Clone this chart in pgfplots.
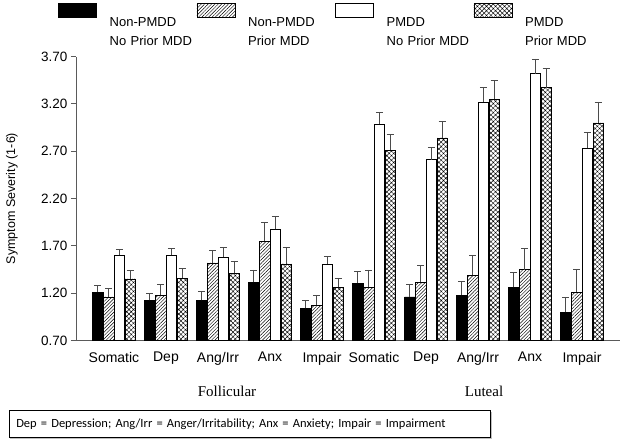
\documentclass[border=0pt]{standalone}
\usepackage{fontspec}
\setmainfont{Liberation Sans}
\newfontfamily\timesfont{Liberation Serif}
\newfontfamily\notefont{Carlito}
\usepackage{pgfplots}
\pgfplotsset{compat=1.18}
\usetikzlibrary{patterns.meta}

\definecolor{axisgray}{RGB}{90,90,90}
\definecolor{errgray}{RGB}{75,75,75}

\begin{document}
\begin{tikzpicture}
\path[use as bounding box] (0,0) rectangle (629bp,-443bp);
\begin{axis}[
  at={(76bp,-340.5bp)}, anchor=south west,
  scale only axis,
  width=544bp, height=284bp,
  ybar=0.4bp, bar width=10.4bp,
  xmin=-0.73, xmax=9.73,
  ymin=0.7, ymax=3.7,
  ytick={0.7,1.2,1.7,2.2,2.7,3.2,3.7},
  xtick={0,...,9},
  xticklabels={Somatic,Dep,Ang/Irr,Anx,Impair,Somatic,Dep,Ang/Irr,Anx,Impair},
  axis x line=bottom, axis y line=left,
  axis line style={axisgray, line width=0.8bp, -},
  major x tick style={draw=none},
  y tick style={axisgray, line width=0.8bp},
  tick align=outside, major tick length=5bp,
  /pgf/number format/.cd, fixed, fixed zerofill, precision=2, assume math mode=true,
  /pgfplots/.cd,
  yticklabel style={font=\fontsize{13.5bp}{15bp}\selectfont},
  xticklabel style={font=\fontsize{14bp}{16bp}\selectfont, yshift=-3bp},
  ylabel={Symptom Severity (1-6)},
  y label style={at={(axis description cs:-0.118,0.5)}, anchor=center,
    font=\fontsize{12.5bp}{14bp}\selectfont},
  legend columns=4,
  legend cell align=left,
  legend style={at={(axis description cs:-0.0331,1.1877)}, anchor=north west,
    draw=none, fill=none, inner sep=0pt,
    font=\fontsize{13bp}{18.4bp}\selectfont,
    nodes={inner sep=0pt, text width=84bp, align=left},
    /tikz/every odd column/.style={column sep=13bp},
    /tikz/every even column/.style={column sep=3bp}},
  legend image code/.code={\draw[#1] (0bp,5.45bp) rectangle (38bp,19.45bp);},
  error bars/y dir=plus, error bars/y explicit,
  error bars/error bar style={errgray, line width=0.7bp},
  error bars/error mark options={errgray, line width=0.7bp, mark size=3.5bp, rotate=90},
]
\addplot[draw=black, fill=black, line width=0.5bp] coordinates {
  (0,1.21) +- (0,0.07)
  (1,1.125) +- (0,0.075)
  (2,1.125) +- (0,0.095)
  (3,1.315) +- (0,0.13)
  (4,1.04) +- (0,0.08)
  (5,1.305) +- (0,0.125)
  (6,1.16) +- (0,0.13)
  (7,1.18) +- (0,0.145)
  (8,1.265) +- (0,0.15)
  (9,1.00) +- (0,0.16)
};
\addplot[draw=black, line width=0.5bp,
  pattern={Lines[angle=45, distance=2.4bp, line width=0.45bp]}] coordinates {
  (0,1.16) +- (0,0.09)
  (1,1.18) +- (0,0.11)
  (2,1.52) +- (0,0.13)
  (3,1.75) +- (0,0.195)
  (4,1.075) +- (0,0.105)
  (5,1.26) +- (0,0.185)
  (6,1.315) +- (0,0.18)
  (7,1.39) +- (0,0.21)
  (8,1.45) +- (0,0.22)
  (9,1.21) +- (0,0.245)
};
\addplot[draw=black, fill=white, line width=0.5bp] coordinates {
  (0,1.60) +- (0,0.06)
  (1,1.60) +- (0,0.07)
  (2,1.58) +- (0,0.10)
  (3,1.875) +- (0,0.14)
  (4,1.51) +- (0,0.08)
  (5,2.985) +- (0,0.125)
  (6,2.61) +- (0,0.13)
  (7,3.22) +- (0,0.15)
  (8,3.52) +- (0,0.155)
  (9,2.73) +- (0,0.17)
};
\addplot[draw=black, line width=0.5bp,
  pattern={Hatch[angle=45, distance=3.2bp, line width=0.45bp]}] coordinates {
  (0,1.35) +- (0,0.09)
  (1,1.36) +- (0,0.10)
  (2,1.41) +- (0,0.13)
  (3,1.51) +- (0,0.175)
  (4,1.26) +- (0,0.10)
  (5,2.71) +- (0,0.17)
  (6,2.84) +- (0,0.17)
  (7,3.25) +- (0,0.20)
  (8,3.37) +- (0,0.20)
  (9,3.00) +- (0,0.22)
};
\legend{Non-PMDD\\No Prior MDD, Non-PMDD\\Prior MDD, PMDD\\No Prior MDD, PMDD\\Prior MDD}
\end{axis}
\node[font=\timesfont\fontsize{15bp}{17bp}\selectfont] at (227bp,-391bp) {Follicular};
\node[font=\timesfont\fontsize{15bp}{17bp}\selectfont] at (484bp,-391bp) {Luteal};
\fill[gray!50] (10bp,-412bp) rectangle (492bp,-439bp);
\node[draw=black, fill=white, line width=0.6bp, anchor=north west, minimum height=27bp,
  text width=467bp, inner xsep=7bp, inner ysep=0pt,
  font=\notefont\fontsize{12.5bp}{14bp}\selectfont] at (9bp,-410bp)
  {Dep = Depression; Ang/Irr = Anger/Irritability; Anx = Anxiety; Impair = Impairment};
\end{tikzpicture}
\end{document}
